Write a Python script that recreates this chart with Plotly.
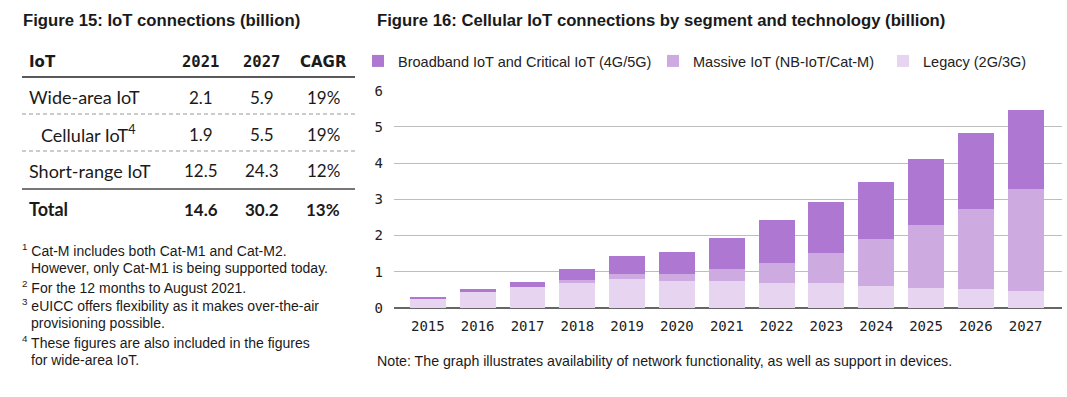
import plotly.graph_objects as go

W, H = 1067, 397

# ---------------- data ----------------
years = ["2015", "2016", "2017", "2018", "2019", "2020", "2021",
         "2022", "2023", "2024", "2025", "2026", "2027"]
legacy = [0.26, 0.44, 0.58, 0.68, 0.80, 0.75, 0.75, 0.70, 0.68, 0.62, 0.55, 0.52, 0.48]
massive = [0.00, 0.00, 0.00, 0.08, 0.14, 0.19, 0.32, 0.55, 0.85, 1.28, 1.74, 2.21, 2.81]
broadband = [0.04, 0.08, 0.14, 0.31, 0.50, 0.61, 0.85, 1.17, 1.39, 1.58, 1.82, 2.09, 2.19]

series_names = ["Broadband IoT and Critical IoT (4G/5G)",
                "Massive IoT (NB-IoT/Cat-M)",
                "Legacy (2G/3G)"]
series_colors = ["#AE78D2", "#CDABE0", "#E6D4F0"]

table_header = ["IoT", "2021", "2027", "CAGR"]
table_rows = [
    ["Wide-area IoT", "2.1", "5.9", "19%"],
    ["Cellular IoT<sup>4</sup>", "1.9", "5.5", "19%"],
    ["Short-range IoT", "12.5", "24.3", "12%"],
]
table_total = ["Total", "14.6", "30.2", "13%"]

footnotes = [
    ("1", "Cat-M includes both Cat-M1 and Cat-M2."),
    (None, "However, only Cat-M1 is being supported today."),
    ("2", "For the 12 months to August 2021."),
    ("3", "eUICC offers flexibility as it makes over-the-air"),
    (None, "provisioning possible."),
    ("4", "These figures are also included in the figures"),
    (None, "for wide-area IoT."),
]

title_left = "Figure 15: IoT connections (billion)"
title_right = "Figure 16: Cellular IoT connections by segment and technology (billion)"
note_text = "Note: The graph illustrates availability of network functionality, as well as support in devices."


def px(x):
    return x / W


def py(y):
    return 1 - y / H


NARROW = "Liberation Sans Narrow, Liberation Sans, Arial, sans-serif"
BODY = "Lato, Open Sans, sans-serif"
MONO = "DejaVu Sans Mono, monospace"
TXT = "#1a1a1a"

fig = go.Figure()

# stacked bars: bottom to top
stack = [(2, legacy), (1, massive), (0, broadband)]
for i, vals in stack:
    fig.add_trace(go.Bar(
        x=years, y=vals, name=series_names[i],
        marker=dict(color=series_colors[i], line=dict(width=0)),
        legend=["legend", "legend2", "legend3"][i],
        hoverinfo="skip",
    ))

legend_x = [358, 653, 883]
legend_common = dict(orientation="h", yanchor="middle", y=py(61), xanchor="left",
                     font=dict(family=NARROW, size=14.5, color="#222"),
                     bgcolor="rgba(0,0,0,0)", borderwidth=0, itemwidth=30)

annotations = []
shapes = []

# titles
annotations.append(dict(text=f"<b>{title_left}</b>", x=px(21), y=py(20), xref="paper", yref="paper",
                        xanchor="left", yanchor="middle", showarrow=False,
                        font=dict(family=NARROW, size=16.7, color=TXT)))
annotations.append(dict(text=f"<b>{title_right}</b>", x=px(375), y=py(20), xref="paper", yref="paper",
                        xanchor="left", yanchor="middle", showarrow=False,
                        font=dict(family=NARROW, size=16.7, color=TXT)))

# table
col_x = [27, 200.5, 261.5, 323]
header_y = 62
row_y = [97, 134, 171]
total_y = 209

for j, h in enumerate(table_header):
    fam = MONO if j in (1, 2) else "DejaVu Sans, sans-serif"
    annotations.append(dict(text=f"<b>{h}</b>", x=px(col_x[j]), y=py(header_y), xref="paper", yref="paper",
                            xanchor="left" if j == 0 else "center", yanchor="middle", showarrow=False,
                            font=dict(family=fam, size=15.5 if j in (1, 2) else 15, color=TXT)))

for r, row in enumerate(table_rows):
    for j, cell in enumerate(row):
        xx = col_x[j]
        if j == 0 and r == 1:
            xx = 39
        annotations.append(dict(text=cell, x=px(xx), y=py(row_y[r]), xref="paper", yref="paper",
                                xanchor="left" if j == 0 else "center", yanchor="middle", showarrow=False,
                                font=dict(family=BODY, size=18 if j == 0 else 17, color=TXT)))

for j, cell in enumerate(table_total):
    annotations.append(dict(text=f"<b>{cell}</b>", x=px(col_x[j]), y=py(total_y), xref="paper", yref="paper",
                            xanchor="left" if j == 0 else "center", yanchor="middle", showarrow=False,
                            font=dict(family=BODY, size=18 if j == 0 else 17, color=TXT)))

shapes.append(dict(type="line", xref="paper", yref="paper", x0=px(22), x1=px(355), y0=py(77), y1=py(77),
                   line=dict(color="#222", width=1.5)))
for yy in (114, 151):
    shapes.append(dict(type="line", xref="paper", yref="paper", x0=px(22), x1=px(355), y0=py(yy), y1=py(yy),
                       line=dict(color="#999", width=1, dash="4px,3px")))
shapes.append(dict(type="line", xref="paper", yref="paper", x0=px(22), x1=px(355), y0=py(189), y1=py(189),
                   line=dict(color="#777", width=2)))

# footnotes
fn_y0 = 250
for k, (num, txt) in enumerate(footnotes):
    yy = fn_y0 + k * 18.3
    if num is not None:
        text = f"<sup>{num}</sup> {txt}"
        xx = 20
    else:
        text = txt
        xx = 29
    annotations.append(dict(text=text, x=px(xx), y=py(yy), xref="paper", yref="paper",
                            xanchor="left", yanchor="middle", showarrow=False,
                            font=dict(family=NARROW, size=14, color=TXT)))

# note
annotations.append(dict(text=note_text, x=px(375), y=py(361), xref="paper", yref="paper",
                        xanchor="left", yanchor="middle", showarrow=False,
                        font=dict(family=NARROW, size=14.2, color=TXT)))

fig.update_layout(
    width=W, height=H,
    margin=dict(l=0, r=0, t=0, b=0, autoexpand=False),
    paper_bgcolor="white", plot_bgcolor="white",
    barmode="stack", bargap=0.28,
    showlegend=True,
    legend=dict(legend_common, x=px(legend_x[0])),
    legend2=dict(legend_common, x=px(legend_x[1])),
    legend3=dict(legend_common, x=px(legend_x[2])),
    xaxis=dict(domain=[px(394), px(1062)], type="category", range=[-0.68, 12.73],
               showgrid=False, showline=False, ticks="", zeroline=False, automargin=False,
               tickfont=dict(family=MONO, size=14, color="#222"), ticklabelstandoff=8),
    yaxis=dict(domain=[py(308), py(90.7)], range=[0, 6], tickvals=[0, 1, 2, 3, 4, 5, 6],
               showgrid=True, gridcolor="#BDBDBD", gridwidth=1.3,
               zeroline=True, zerolinecolor="#666", zerolinewidth=2, automargin=False,
               showline=False, ticks="",
               tickfont=dict(family=MONO, size=14, color="#222"), ticklabelstandoff=10),
    annotations=annotations,
    shapes=shapes,
)

fig.write_html("out.html", config={"displayModeBar": False},
               post_script="document.body.style.margin='0px';document.body.style.overflow='hidden';")
